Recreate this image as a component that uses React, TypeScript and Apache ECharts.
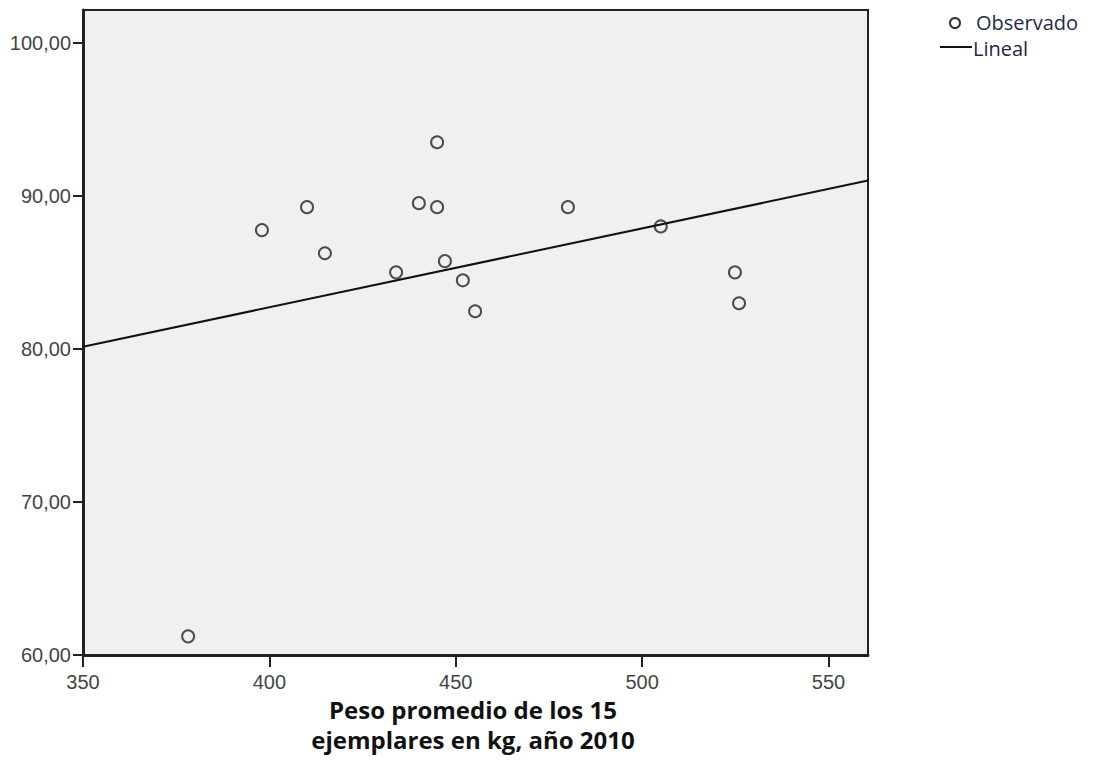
import React, { useEffect, useRef } from "react";
import * as echarts from "echarts";

const pesoKg: number[] = [378.2, 398.0, 410.1, 414.9, 434.0, 440.1, 445.0, 445.0, 447.1, 451.9, 455.2, 480.1, 505.0, 524.9, 526.0];
const observado: number[] = [61.22, 87.76, 89.26, 86.25, 85.0, 89.52, 93.5, 89.26, 85.73, 84.48, 82.46, 89.26, 88.0, 85.0, 82.98];
const xTicks: number[] = [350, 400, 450, 500, 550];
const yTicks: number[] = [60, 70, 80, 90, 100];
const xRange: number[] = [350, 560.6];
const yRange: number[] = [60, 102.14];
const xTitle = "Peso promedio de los 15\nejemplares en kg, año 2010";
const legendNames: string[] = ["Observado", "Lineal"];

function linearFit(xs: number[], ys: number[]) {
  const n = xs.length;
  const mx = xs.reduce((a, b) => a + b, 0) / n;
  const my = ys.reduce((a, b) => a + b, 0) / n;
  let sxy = 0;
  let sxx = 0;
  for (let i = 0; i < n; i++) {
    sxy += (xs[i] - mx) * (ys[i] - my);
    sxx += (xs[i] - mx) * (xs[i] - mx);
  }
  const b = sxy / sxx;
  return { a: my - b * mx, b };
}

export default function App() {
  const ref = useRef<HTMLDivElement>(null);
  useEffect(() => {
    if (!ref.current) return;
    const chart = echarts.init(ref.current, null, { renderer: "svg" });
    const fit = linearFit(pesoKg, observado);
    const lineData = xRange.map((x) => [x, fit.a + fit.b * x]);
    const axisFont = { fontFamily: "Liberation Sans", fontSize: 20, color: "#444" };
    chart.setOption({
      animation: false,
      backgroundColor: "#ffffff",
      grid: {
        left: 83,
        top: 10,
        width: 785,
        height: 645,
        show: true,
        backgroundColor: "#f0f0f0",
        borderColor: "#222",
        borderWidth: 2,
      },
      xAxis: {
        type: "value",
        min: xRange[0],
        max: xRange[1],
        splitLine: { show: false },
        axisLine: { show: true, onZero: false, lineStyle: { color: "#222", width: 3 } },
        axisTick: { show: true, length: 12, customValues: xTicks, lineStyle: { color: "#222", width: 2 } },
        axisLabel: { ...axisFont, margin: 17, customValues: xTicks, formatter: (v: number) => String(v) },
      },
      yAxis: {
        type: "value",
        min: yRange[0],
        max: yRange[1],
        splitLine: { show: false },
        axisLine: { show: true, onZero: false, lineStyle: { color: "#222", width: 3 } },
        axisTick: { show: true, length: 10, customValues: yTicks, lineStyle: { color: "#222", width: 2 } },
        axisLabel: {
          ...axisFont,
          margin: 12,
          customValues: yTicks,
          formatter: (v: number) => v.toFixed(2).replace(".", ","),
        },
      },
      series: [
        {
          name: legendNames[0],
          type: "scatter",
          data: pesoKg.map((x, i) => [x, observado[i]]),
          symbol: "circle",
          symbolSize: 12,
          itemStyle: { color: "rgba(0,0,0,0)", borderColor: "#222", borderWidth: 2 },
          z: 3,
        },
        {
          name: legendNames[1],
          type: "line",
          data: lineData,
          symbol: "none",
          lineStyle: { color: "#111", width: 2 },
          z: 2,
        },
      ],
      graphic: [
        {
          type: "text",
          x: 473,
          y: 694,
          style: {
            text: xTitle,
            align: "center",
            verticalAlign: "top",
            fontFamily: "Open Sans",
            fontWeight: "bold",
            fontSize: 24,
            lineHeight: 30,
            fill: "#111",
          },
        },
        {
          type: "circle",
          shape: { cx: 955, cy: 23, r: 5 },
          style: { fill: "none", stroke: "#333", lineWidth: 2 },
        },
        {
          type: "text",
          x: 976,
          y: 22,
          style: {
            text: legendNames[0],
            fontFamily: "Open Sans",
            fontSize: 20,
            fill: "#1f2a4a",
            verticalAlign: "middle",
          },
        },
        {
          type: "line",
          shape: { x1: 940, y1: 47, x2: 972, y2: 47 },
          style: { stroke: "#111", lineWidth: 2 },
        },
        {
          type: "text",
          x: 973,
          y: 48,
          style: {
            text: legendNames[1],
            fontFamily: "Open Sans",
            fontSize: 20,
            fill: "#2a1f4a",
            verticalAlign: "middle",
          },
        },
      ],
    });
    return () => chart.dispose();
  }, []);
  return (
    <div
      ref={ref}
      style={{ position: "absolute", left: 0, top: 0, width: 1101, height: 774 }}
    />
  );
}
